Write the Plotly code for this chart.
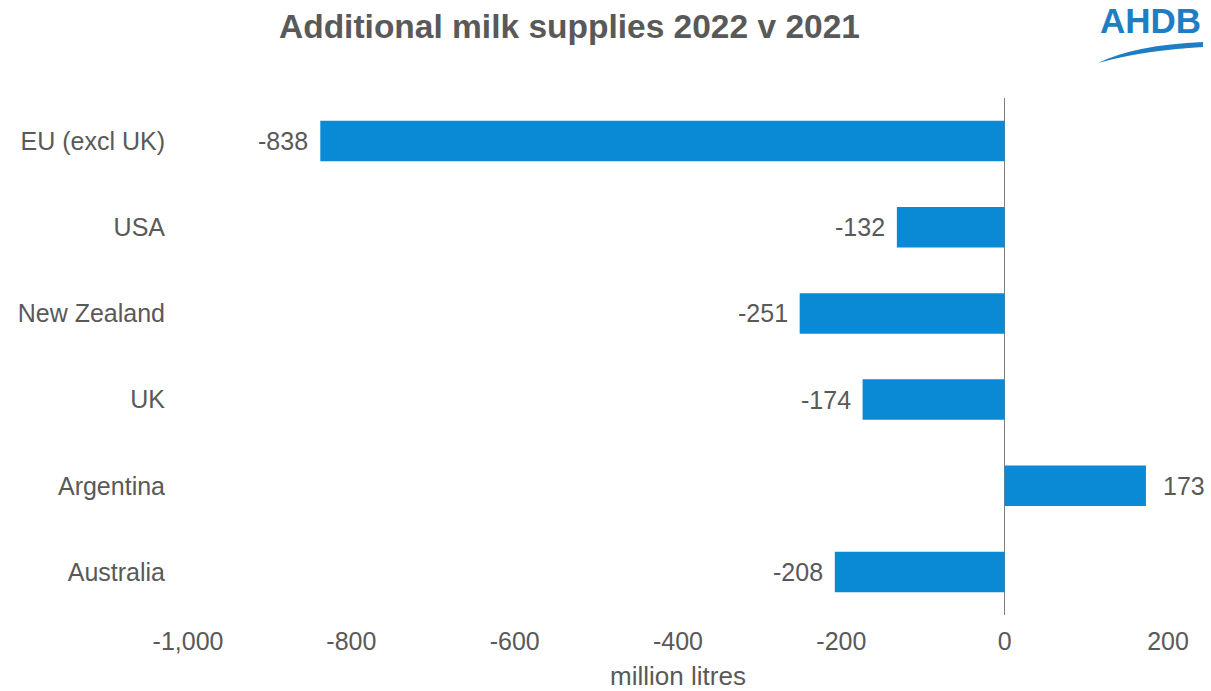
import plotly.graph_objects as go

categories = ["EU (excl UK)", "USA", "New Zealand", "UK", "Argentina", "Australia"]
values = [-838, -132, -251, -174, 173, -208]
tick_vals = [-1000, -800, -600, -400, -200, 0, 200]
tick_text = ["-1,000", "-800", "-600", "-400", "-200", "0", "200"]

W, H = 1211, 691
L, R, T, B = 188, 43, 98, 76
GRAY = "#595959"
FONT = "Liberation Sans, Arial, sans-serif"

def px(x):
    return (x - L) / (W - L - R)

def py(y):
    return 1 - (y - T) / (H - T - B)

fig = go.Figure()
fig.add_trace(go.Bar(
    y=categories, x=values, orientation="h",
    marker=dict(color="#0A8AD4", line=dict(width=0)),
    hoverinfo="skip",
))

for c, v in zip(categories, values):
    fig.add_annotation(
        x=v, y=c, xref="x", yref="y", text=f"{v}",
        showarrow=False, xanchor="right" if v < 0 else "left",
        xshift=-10 if v < 0 else 15,
        font=dict(family=FONT, size=25, color=GRAY),
    )

# title
fig.add_annotation(
    x=px(569), y=py(27), xref="paper", yref="paper",
    text="<b>Additional milk supplies 2022 v 2021</b>", showarrow=False,
    xanchor="center", yanchor="middle",
    font=dict(family=FONT, size=33.5, color=GRAY),
)
# logo
fig.add_annotation(
    x=px(1150), y=py(21), xref="paper", yref="paper",
    text="<b>AHDB</b>", showarrow=False, xanchor="center", yanchor="middle",
    font=dict(family=FONT, size=35, color="#1F7DC3"),
)
path = (f"M {px(1098)},{py(63)} "
        f"Q {px(1135)},{py(45)} {px(1203)},{py(42)} "
        f"L {px(1203)},{py(47)} "
        f"Q {px(1145)},{py(50)} {px(1098)},{py(63)} Z")
fig.add_shape(type="path", path=path, xref="paper", yref="paper",
              fillcolor="#1F7DC3", line=dict(width=0))

fig.update_layout(
    width=W, height=H,
    margin=dict(l=L, r=R, t=T, b=B, autoexpand=False),
    paper_bgcolor="white", plot_bgcolor="white",
    showlegend=False, bargap=0.53,
    font=dict(family=FONT, size=25, color=GRAY),
    xaxis=dict(
        range=[-1000, 200], tickvals=tick_vals, ticktext=tick_text,
        showgrid=False, zeroline=True, zerolinecolor="#7F7F7F", zerolinewidth=1,
        showline=False, ticks="", ticklabelstandoff=9, automargin=False,
        tickfont=dict(family=FONT, size=25, color=GRAY),
        title=dict(text="million litres", standoff=18,
                   font=dict(family=FONT, size=26, color=GRAY)),
        fixedrange=True,
    ),
    yaxis=dict(
        categoryorder="array", categoryarray=categories, autorange="reversed",
        showgrid=False, zeroline=False, showline=False, ticks="",
        ticklabelstandoff=22, automargin=False,
        tickfont=dict(family=FONT, size=25, color=GRAY),
        fixedrange=True,
    ),
)

fig.write_html("out.html")
